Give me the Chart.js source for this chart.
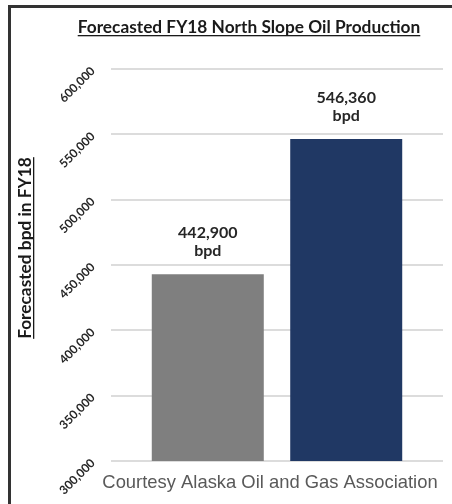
<!DOCTYPE html>
<html>
<head>
<meta charset="utf-8">
<script src="https://cdn.jsdelivr.net/npm/chart.js@4"></script>
<style>
  html, body { margin: 0; padding: 0; background: #fff; }
  #frame { position: absolute; left: 8px; top: 5px; width: 444px; height: 496px;
           border-top: 3px solid #333; border-left: 3px solid #333; border-bottom: 1px solid #ddd; box-sizing: content-box; }
  #wrap { position: absolute; left: 0; top: 0; width: 452px; height: 504px; }
</style>
</head>
<body>
<div id="frame"></div>
<div id="wrap"><canvas id="c" width="452" height="504"></canvas></div>
<script>
const chartTitle = 'Forecasted FY18 North Slope Oil Production';
const yAxisTitle = 'Forecasted bpd in FY18';
const creditText = 'Courtesy Alaska Oil and Gas Association';
const categories = [''];
const seriesNames = ['Forecast A', 'Forecast B'];
const seriesValues = [442900, 546360];
const seriesColors = ['#7f7f7f', '#203864'];
const valueUnit = 'bpd';
const yMin = 300000, yMax = 600000, yStep = 50000;

const FONT = 'Lato, "Open Sans", sans-serif';

const textPlugin = {
  id: 'textPlugin',
  afterDatasetsDraw(chart) {
    const ctx = chart.ctx;
    ctx.save();
    ctx.fillStyle = '#262626';
    ctx.font = 'bold 16px ' + FONT;
    ctx.textAlign = 'center';
    ctx.textBaseline = 'alphabetic';
    chart.data.datasets.forEach((ds, i) => {
      const meta = chart.getDatasetMeta(i);
      meta.data.forEach((bar, j) => {
        const v = ds.data[j];
        ctx.fillText(v.toLocaleString('en-US'), bar.x, bar.y - 36);
        ctx.fillText(valueUnit, bar.x, bar.y - 18);
      });
    });
    ctx.restore();
  },
  afterDraw(chart) {
    const ctx = chart.ctx;
    ctx.save();
    ctx.fillStyle = '#1a1a1a';
    ctx.font = 'bold 17.3px ' + FONT;
    ctx.textAlign = 'center';
    ctx.textBaseline = 'alphabetic';
    const tx = 249, ty = 33;
    ctx.fillText(chartTitle, tx, ty);
    let w = ctx.measureText(chartTitle).width;
    ctx.fillRect(tx - w / 2, ty + 2, w, 1.3);
    ctx.translate(31, 248);
    ctx.rotate(-Math.PI / 2);
    ctx.fillText(yAxisTitle, 0, 0);
    w = ctx.measureText(yAxisTitle).width;
    ctx.fillRect(-w / 2, 2, w, 1.3);
    ctx.setTransform(1, 0, 0, 1, 0, 0);
    ctx.fillStyle = '#595959';
    ctx.font = '18.4px "Liberation Sans", Arial, sans-serif';
    ctx.textAlign = 'center';
    ctx.fillText(creditText, 270, 488);
    ctx.restore();
  }
};

new Chart(document.getElementById('c'), {
  type: 'bar',
  data: {
    labels: categories,
    datasets: seriesValues.map((v, i) => ({
      label: seriesNames[i],
      data: [v],
      backgroundColor: seriesColors[i],
      borderWidth: 0,
      categoryPercentage: 0.834,
      barPercentage: 0.809
    }))
  },
  options: {
    responsive: false,
    animation: false,
    devicePixelRatio: 1,
    layout: { padding: { top: 69, bottom: 43, right: 9, left: 0 } },
    plugins: { legend: { display: false }, tooltip: { enabled: false }, title: { display: false } },
    scales: {
      x: { display: false },
      y: {
        min: yMin, max: yMax,
        afterFit(scale) { scale.width = 111; },
        border: { display: false },
        grid: { color: '#dcdcdc', lineWidth: 2, drawTicks: false },
        ticks: {
          stepSize: yStep,
          minRotation: 45, maxRotation: 45,
          padding: 18,
          color: '#262626',
          font: { family: FONT, weight: 'bold', size: 12 },
          callback: v => v.toLocaleString('en-US')
        }
      }
    }
  },
  plugins: [textPlugin]
});
</script>
</body>
</html>
